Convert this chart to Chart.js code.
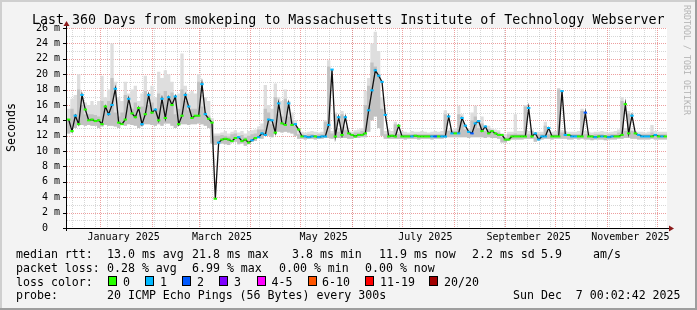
<!DOCTYPE html>
<html>
<head>
<meta charset="utf-8">
<script src="https://cdn.jsdelivr.net/npm/chart.js@4"></script>
<style>
  body { margin: 0; background: #f3f3f3; }
  #wrap { position: relative; width: 697px; height: 310px; overflow: hidden; font-family: 'DejaVu Sans Mono', monospace; color: #000; }
  #wrap canvas { position: absolute; left: 0; top: 0; }
  .t { position: absolute; white-space: pre; line-height: 1; }
  .lg { font-size: 11.6px; }
  .sw { position: absolute; top: 276px; width: 7px; height: 8px; border: 1px solid #000; }
</style>
</head>
<body>
<div id="wrap">
  <canvas id="chartJS" width="697" height="310"></canvas>

  <div class="t" style="left:32px;top:12.75px;font-size:13.3px">Last 360 Days from smokeping to Massachusetts Institute of Technology Webserver</div>
  <div class="t" style="left:5px;top:152px;font-size:11.6px;line-height:12px;transform:rotate(-90deg);transform-origin:0 0">Seconds</div>
  <div class="t" style="left:691px;top:5px;font-size:8.3px;line-height:9px;transform:rotate(90deg);transform-origin:0 0;color:#b4b4b4">RRDTOOL / TOBI OETIKER</div>

  <div class="t lg" style="left:16px;top:248.7px">median rtt:</div>
  <div class="t lg" style="left:107px;top:248.7px">13.0 ms avg</div>
  <div class="t lg" style="left:192px;top:248.7px">21.8 ms max</div>
  <div class="t lg" style="left:292px;top:248.7px">3.8 ms min</div>
  <div class="t lg" style="left:379px;top:248.7px">11.9 ms now</div>
  <div class="t lg" style="left:472px;top:248.7px">2.2 ms sd</div>
  <div class="t lg" style="left:541px;top:248.7px">5.9</div>
  <div class="t lg" style="left:593px;top:248.7px">am/s</div>

  <div class="t lg" style="left:16px;top:262.7px">packet loss:</div>
  <div class="t lg" style="left:107px;top:262.7px">0.28 % avg</div>
  <div class="t lg" style="left:192px;top:262.7px">6.99 % max</div>
  <div class="t lg" style="left:279px;top:262.7px">0.00 % min</div>
  <div class="t lg" style="left:365px;top:262.7px">0.00 % now</div>

  <div class="t lg" style="left:16px;top:276.5px">loss color:</div>
  <div id="swatches"></div>

  <div class="t lg" style="left:16px;top:290.2px">probe:</div>
  <div class="t lg" style="left:107px;top:290.2px">20 ICMP Echo Pings (56 Bytes) every 300s</div>
  <div class="t lg" style="left:513px;top:290.2px">Sun Dec  7 00:02:42 2025</div>
</div>
<script>
// x axis: days since Dec 12 2024, 360 days shown
const monthLabels = ['January 2025', 'March 2025', 'May 2025', 'July 2025', 'September 2025', 'November 2025'];
const labelDays = [34, 93, 154, 215, 277, 338];
const monthStartDays = [20, 51, 79, 110, 140, 171, 201, 232, 263, 293, 324, 354];
const yTicks = [0, 2, 4, 6, 8, 10, 12, 14, 16, 18, 20, 22, 24, 26];

// median rtt (ms), one value per 2 days
const median = [
  14.1, 12.6, 14.6, 13.5, 17.3, 15.4, 14.0, 14.1, 13.9, 14.0,
  13.5, 15.8, 14.8, 16.0, 18.1, 13.7, 13.5, 14.1, 16.8, 14.9,
  14.4, 15.6, 13.5, 14.8, 17.3, 15.0, 15.4, 14.0, 16.8, 14.3,
  17.0, 16.0, 17.1, 13.5, 14.6, 17.3, 15.8, 14.3, 14.6, 14.6,
  18.7, 14.8, 14.2, 13.7, 3.8, 11.1, 11.5, 11.6, 11.5, 11.3,
  11.7, 11.8, 11.3, 11.5, 11.1, 11.4, 11.7, 11.8, 12.3, 12.1,
  14.1, 14.0, 12.4, 16.2, 13.6, 13.4, 16.2, 13.4, 13.5, 12.8,
  11.9, 11.9, 11.8, 11.9, 11.9, 11.8, 11.9, 11.9, 13.4, 20.6,
  11.9, 14.4, 12.1, 14.4, 12.3, 12.1, 11.9, 12.1, 12.1, 12.3,
  15.3, 17.9, 20.5, 19.8, 19.0, 14.7, 11.9, 12.0, 11.9, 13.3,
  11.9, 11.9, 11.9, 11.9, 12.0, 11.9, 11.9, 11.9, 11.9, 11.9,
  11.9, 11.9, 11.9, 11.9, 14.5, 12.3, 12.3, 12.3, 14.3, 13.3,
  12.5, 12.3, 13.6, 13.9, 12.6, 13.2, 12.3, 12.6, 12.3, 12.1,
  12.1, 11.5, 11.5, 11.9, 11.9, 11.9, 11.9, 11.9, 15.6, 11.9,
  12.3, 11.5, 11.9, 11.9, 13.0, 11.9, 11.9, 11.9, 17.8, 12.1,
  12.1, 11.9, 11.9, 11.9, 11.9, 15.0, 11.9, 11.9, 11.8, 11.9,
  11.9, 11.9, 11.8, 11.9, 11.9, 11.9, 12.1, 16.1, 12.3, 14.6,
  12.3, 12.1, 11.9, 11.9, 11.9, 11.9, 12.1, 11.9, 11.9, 11.9
];

// lost pings per interval (index into lossColors)
const loss = [
  0, 0, 1, 0, 1, 0, 0, 0, 0, 0,
  0, 0, 1, 1, 1, 0, 0, 0, 1, 0,
  0, 0, 1, 0, 1, 0, 1, 0, 1, 0,
  1, 0, 1, 0, 0, 1, 1, 0, 0, 0,
  1, 1, 0, 0, 0, 1, 0, 0, 0, 0,
  0, 1, 0, 0, 0, 1, 0, 1, 1, 1,
  1, 1, 0, 1, 0, 0, 1, 0, 1, 0,
  0, 1, 1, 1, 0, 1, 1, 1, 1, 1,
  0, 1, 0, 1, 0, 0, 0, 0, 0, 0,
  1, 1, 1, 1, 1, 1, 0, 0, 0, 0,
  0, 0, 0, 1, 0, 0, 0, 0, 0, 1,
  2, 0, 1, 1, 1, 1, 0, 1, 1, 1,
  1, 2, 1, 1, 0, 1, 0, 0, 0, 0,
  0, 0, 0, 0, 0, 0, 0, 0, 1, 0,
  1, 1, 1, 1, 1, 0, 0, 0, 1, 1,
  0, 1, 1, 0, 0, 2, 0, 0, 1, 0,
  1, 0, 1, 1, 0, 0, 0, 0, 0, 1,
  0, 1, 1, 1, 1, 0, 1, 0, 1, 0
];

// smoke (ms), one value per 2 days: outer envelope and the denser inner part
const smokeHi = [
  16.0, 15.5, 16.8, 17.3, 20.0, 17.0, 16.3, 16.0, 16.5, 16.0,
  16.5, 19.8, 17.0, 18.0, 24.0, 19.0, 17.0, 16.5, 19.0, 17.5,
  18.0, 18.5, 16.5, 17.5, 19.8, 17.5, 18.5, 17.0, 20.3, 19.5,
  20.5, 20.0, 19.0, 17.0, 17.5, 22.7, 18.5, 17.5, 17.8, 17.5,
  20.0, 17.3, 17.0, 16.5, 14.3, 12.3, 12.3, 12.4, 12.6, 12.3,
  12.5, 12.7, 12.4, 12.6, 12.3, 12.6, 12.7, 12.8, 13.2, 13.6,
  18.6, 16.0, 15.5, 18.8, 17.0, 16.5, 18.0, 16.5, 15.0, 14.0,
  12.6, 12.5, 12.4, 12.5, 12.6, 12.5, 12.4, 12.5, 14.0, 21.8,
  12.6, 15.0, 13.0, 15.2, 13.2, 12.7, 12.5, 12.7, 12.8, 13.0,
  17.8, 19.5, 24.0, 25.5, 23.0, 17.0, 12.6, 12.8, 12.6, 13.8,
  12.5, 12.6, 12.5, 12.4, 12.6, 12.5, 12.5, 12.6, 12.5, 12.4,
  12.5, 12.6, 12.5, 12.6, 15.3, 12.8, 12.8, 13.0, 15.9, 14.8,
  13.3, 13.0, 15.0, 15.9, 13.8, 14.5, 13.3, 13.3, 13.0, 12.8,
  12.7, 12.3, 12.2, 12.5, 12.5, 14.8, 12.6, 12.6, 16.0, 12.6,
  12.8, 12.4, 12.5, 12.5, 13.8, 12.6, 12.5, 12.6, 18.2, 12.7,
  12.6, 12.5, 12.5, 12.5, 12.6, 15.5, 12.6, 12.5, 12.4, 12.5,
  12.5, 12.6, 12.5, 12.4, 12.5, 12.6, 12.8, 17.0, 13.0, 15.2,
  12.8, 12.6, 12.5, 12.5, 12.4, 12.5, 13.4, 12.6, 12.5, 12.5
];
const smokeMid = [
  15.0, 14.0, 15.5, 14.8, 18.0, 16.0, 14.8, 14.8, 14.8, 14.7,
  14.5, 16.5, 15.8, 16.5, 19.5, 15.0, 14.5, 15.0, 17.3, 15.8,
  15.5, 16.3, 14.8, 15.8, 17.8, 16.0, 16.3, 15.0, 17.5, 16.0,
  17.8, 17.0, 17.6, 14.8, 15.5, 18.0, 16.5, 15.3, 15.5, 15.5,
  19.0, 15.8, 15.0, 14.6, 13.5, 12.0, 12.0, 12.1, 12.0, 11.9,
  12.2, 12.3, 11.9, 12.1, 11.8, 12.0, 12.2, 12.3, 12.8, 12.8,
  15.5, 15.0, 13.5, 17.0, 14.8, 14.5, 16.8, 14.5, 14.0, 13.3,
  12.2, 12.2, 12.1, 12.2, 12.2, 12.1, 12.2, 12.2, 13.8, 21.0,
  12.3, 14.8, 12.5, 14.8, 12.7, 12.4, 12.2, 12.4, 12.4, 12.6,
  16.0, 18.5, 21.5, 21.0, 20.0, 15.5, 12.2, 12.3, 12.2, 13.5,
  12.2, 12.2, 12.2, 12.2, 12.2, 12.2, 12.2, 12.2, 12.2, 12.2,
  12.2, 12.2, 12.2, 12.2, 14.8, 12.6, 12.6, 12.6, 14.8, 13.8,
  12.8, 12.6, 14.0, 14.5, 13.0, 13.6, 12.6, 12.9, 12.6, 12.4,
  12.4, 11.8, 11.8, 12.2, 12.2, 12.3, 12.2, 12.2, 15.8, 12.2,
  12.6, 11.8, 12.2, 12.2, 13.3, 12.2, 12.2, 12.2, 18.0, 12.4,
  12.4, 12.2, 12.2, 12.2, 12.2, 15.2, 12.2, 12.2, 12.1, 12.2,
  12.2, 12.2, 12.1, 12.2, 12.2, 12.2, 12.4, 16.5, 12.6, 14.9,
  12.6, 12.4, 12.2, 12.2, 12.2, 12.2, 12.4, 12.2, 12.2, 12.2
];
const smokeLo = [
  13.0, 12.3, 13.2, 13.0, 13.4, 13.4, 13.3, 13.4, 13.3, 13.3,
  13.0, 13.2, 13.4, 13.3, 13.3, 13.2, 13.0, 13.4, 13.3, 13.5,
  13.4, 13.3, 13.0, 13.3, 13.5, 13.5, 13.4, 13.3, 13.5, 13.3,
  13.6, 13.6, 13.3, 13.0, 13.3, 13.5, 13.5, 13.4, 13.5, 13.5,
  13.6, 13.5, 13.3, 13.0, 11.0, 10.8, 11.0, 11.0, 10.9, 10.8,
  11.1, 11.2, 10.9, 11.0, 10.7, 10.9, 11.2, 11.3, 11.7, 11.6,
  12.0, 12.0, 11.8, 12.2, 12.5, 12.4, 12.5, 12.4, 12.3, 12.0,
  11.6, 11.6, 11.5, 11.6, 11.6, 11.5, 11.6, 11.6, 11.7, 11.7,
  11.6, 11.7, 11.7, 11.7, 11.7, 11.6, 11.6, 11.7, 11.7, 11.8,
  11.8, 12.5, 14.0, 14.5, 13.0, 12.0, 11.6, 11.6, 11.6, 11.6,
  11.6, 11.6, 11.5, 11.6, 11.6, 11.6, 11.5, 11.6, 11.6, 11.6,
  11.5, 11.6, 11.6, 11.6, 11.7, 11.8, 11.8, 11.8, 11.8, 11.8,
  11.8, 11.7, 11.8, 11.8, 11.8, 11.8, 11.7, 11.8, 11.7, 11.7,
  11.6, 11.1, 11.1, 11.4, 11.5, 11.5, 11.5, 11.5, 11.6, 11.6,
  11.6, 11.2, 11.5, 11.5, 11.6, 11.6, 11.5, 11.6, 11.6, 11.6,
  11.6, 11.5, 11.5, 11.6, 11.5, 11.6, 11.5, 11.5, 11.4, 11.5,
  11.5, 11.5, 11.4, 11.5, 11.5, 11.5, 11.6, 11.6, 11.7, 11.7,
  11.6, 11.6, 11.5, 11.5, 11.5, 11.5, 11.6, 11.5, 11.5, 11.5
];

const lossColors = ['#26ff00', '#00b8ff', '#0059ff', '#7e00ff', '#ff00ff', '#ff5500', '#ff0000', '#a10000'];
const swatchX = [108, 145, 182, 219, 257, 307.5, 365, 429];
const swatchLabels = [[123, '0'], [160, '1'], [197, '2'], [234, '3'], [271.5, '4-5'], [322, '6-10'], [380, '11-19'], [444, '20/20']];

const sw = document.getElementById('swatches');
lossColors.forEach((c, i) => {
  const b = document.createElement('div');
  b.className = 'sw';
  b.style.left = swatchX[i] + 'px';
  b.style.background = c;
  sw.appendChild(b);
  const l = document.createElement('div');
  l.className = 't lg';
  l.style.left = swatchLabels[i][0] + 'px';
  l.style.top = '276.5px';
  l.textContent = swatchLabels[i][1];
  sw.appendChild(l);
});

// step data: value holds from x until the next x
const steps = (arr, w) => arr.map((v, i) => ({ x: i * w, y: v })).concat([{ x: arr.length * w, y: arr[arr.length - 1] }]);
const centers = arr => arr.map((v, i) => ({ x: i * 2 + 1, y: v }));

const frame = {
  id: 'frame',
  beforeDraw(chart) {
    const { ctx, chartArea: a } = chart;
    ctx.save();
    ctx.fillStyle = '#f3f3f3';
    ctx.fillRect(0, 0, chart.width, chart.height);
    ctx.fillStyle = '#cfcfcf';
    ctx.fillRect(0, 0, chart.width, 2);
    ctx.fillRect(0, 0, 2, chart.height);
    ctx.fillStyle = '#9e9e9e';
    ctx.fillRect(0, chart.height - 2, chart.width, 2);
    ctx.fillRect(chart.width - 2, 0, 2, chart.height);
    ctx.fillStyle = '#ffffff';
    ctx.fillRect(a.left, a.top, a.right - a.left, a.bottom - a.top);
    ctx.restore();
  },
  beforeDatasetsDraw(chart) {
    const { ctx, chartArea: a, scales: { x, y } } = chart;
    ctx.save();
    ctx.lineWidth = 1;
    ctx.setLineDash([1, 1]);
    const hline = (v, c) => {
      const py = Math.round(y.getPixelForValue(v)) + 0.5;
      ctx.strokeStyle = c;
      ctx.beginPath(); ctx.moveTo(a.left, py); ctx.lineTo(a.right, py); ctx.stroke();
    };
    const vline = (d, c) => {
      const px = Math.round(x.getPixelForValue(d)) + 0.5;
      ctx.strokeStyle = c;
      ctx.beginPath(); ctx.moveTo(px, a.top); ctx.lineTo(px, a.bottom); ctx.stroke();
    };
    const minor = 'rgba(140,140,140,0.35)';
    const major = 'rgba(222,80,80,0.55)';
    for (let v = 1; v < 26; v += 2) hline(v, minor);
    for (let d = 3; d < 360; d += 7) vline(d, minor);
    yTicks.forEach(v => { if (v > 0) hline(v, major); });
    monthStartDays.forEach(d => vline(d, major));
    ctx.restore();
  },
  afterDatasetsDraw(chart) {
    const { ctx, chartArea: a, scales: { y } } = chart;
    ctx.save();
    ctx.strokeStyle = '#000';
    ctx.lineWidth = 1;
    ctx.beginPath();
    ctx.moveTo(a.left - 3, a.bottom + 0.5); ctx.lineTo(a.right + 3, a.bottom + 0.5);
    ctx.moveTo(a.left - 0.5, a.bottom + 3); ctx.lineTo(a.left - 0.5, a.top - 2);
    yTicks.forEach(v => {
      const py = Math.round(y.getPixelForValue(v)) + 0.5;
      ctx.moveTo(a.left - 4, py); ctx.lineTo(a.left - 1, py);
    });
    ctx.stroke();
    ctx.fillStyle = '#8b1a1a';
    ctx.beginPath();
    ctx.moveTo(a.right + 2, a.bottom - 2.5); ctx.lineTo(a.right + 2, a.bottom + 3.5); ctx.lineTo(a.right + 7, a.bottom + 0.5);
    ctx.closePath(); ctx.fill();
    ctx.beginPath();
    ctx.moveTo(a.left - 3.5, a.top - 2); ctx.lineTo(a.left + 2.5, a.top - 2); ctx.lineTo(a.left - 0.5, a.top - 7);
    ctx.closePath(); ctx.fill();
    ctx.restore();
  }
};

Chart.defaults.font.family = "'DejaVu Sans Mono', monospace";

const config = {
  type: 'line',
  data: {
    datasets: [
      { data: steps(smokeLo, 2), stepped: 'after', borderWidth: 0, pointRadius: 0, fill: false, order: 5 },
      { data: steps(smokeHi, 2), stepped: 'after', borderWidth: 0, pointRadius: 0, fill: 0, backgroundColor: '#dedede', order: 4 },
      { data: steps(smokeMid, 2), stepped: 'after', borderWidth: 0, pointRadius: 0, fill: 0, backgroundColor: '#c2c2c2', order: 3 },
      { data: centers(median), borderColor: '#111111', borderWidth: 1.3, pointRadius: 0, fill: false, order: 2 },
      {
        data: centers(median),
        showLine: false,
        pointStyle: 'line',
        pointRadius: 1.7,
        pointBorderWidth: 2,
        pointBorderColor: ctx => lossColors[loss[ctx.dataIndex]],
        order: 1
      }
    ]
  },
  options: {
    responsive: false,
    animation: false,
    devicePixelRatio: 1,
    layout: { padding: { left: 0, top: 28, right: 30, bottom: 0 } },
    plugins: { legend: { display: false }, tooltip: { enabled: false } },
    scales: {
      x: {
        type: 'linear', min: 0, max: 360,
        grid: { display: false, drawTicks: false }, border: { display: false },
        afterFit: s => { s.height = 82; },
        afterBuildTicks: s => { s.ticks = labelDays.map(v => ({ value: v })); },
        ticks: {
          autoSkip: false, maxRotation: 0, padding: 3, color: '#000',
          font: { size: 10 },
          callback: (v, i) => monthLabels[i]
        }
      },
      y: {
        min: 0, max: 26,
        grid: { display: false, drawTicks: false }, border: { display: false },
        afterFit: s => { s.width = 67; },
        afterBuildTicks: s => { s.ticks = yTicks.map(v => ({ value: v })); },
        ticks: {
          padding: 7, color: '#000',
          font: { size: 10 },
          callback: v => v === 0 ? '0  ' : v + ' m'
        }
      }
    }
  },
  plugins: [frame]
};

new Chart(document.getElementById('chartJS'), config);
</script>
</body>
</html>
